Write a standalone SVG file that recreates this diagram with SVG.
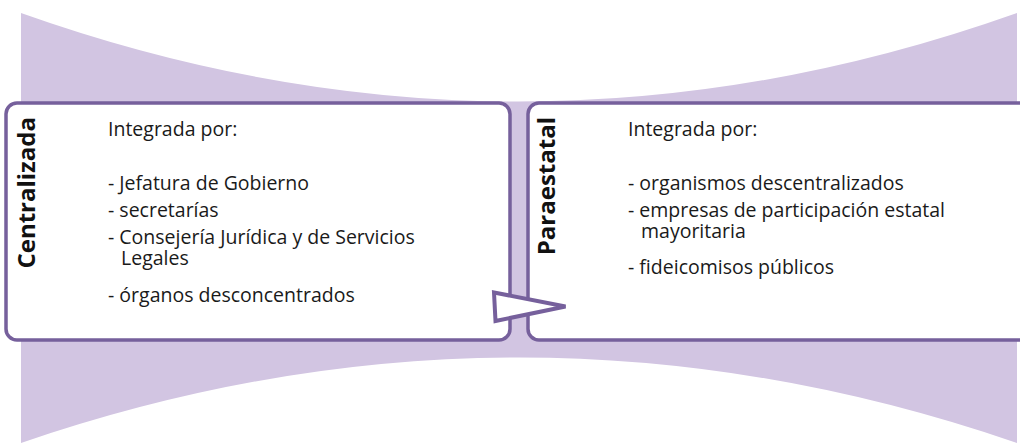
<svg xmlns="http://www.w3.org/2000/svg" width="1020" height="444" viewBox="0 0 1020 444">
<style>
.bg{fill:#d2c5e2;stroke:none}
.box{fill:#ffffff;stroke:#76609c;stroke-width:3.5}
.title{font-family:"Open Sans","Noto Sans",sans-serif;font-weight:bold;font-size:24px;fill:#111111}
.body{font-family:"Open Sans","Noto Sans",sans-serif;font-size:19.5px;fill:#1a1a1a}
.arrow{fill:#ffffff;stroke:#76609c;stroke-width:4;stroke-linejoin:miter}
</style>
<g id="background">
<path class="bg" d="M21,13 Q519,190 1017,13 L1017,443 Q519,272 21,443 Z"/>
</g>
<g id="node-centralizada">
<rect class="box" x="6" y="103" width="504" height="237" rx="11"/>
<text class="title" transform="translate(35,117) rotate(-90)" text-anchor="end">Centralizada</text>
<text class="body" x="108" y="136">Integrada por:</text>
<text class="body" x="108" y="190">- Jefatura de Gobierno</text>
<text class="body" x="108" y="217">- secretarías</text>
<text class="body"><tspan x="108" y="244">- Consejería Jurídica y de Servicios</tspan><tspan x="121" y="265">Legales</tspan></text>
<text class="body" x="108" y="302">- órganos desconcentrados</text>
</g>
<g id="node-paraestatal">
<rect class="box" x="528" y="103" width="510" height="237" rx="11"/>
<text class="title" transform="translate(555,117) rotate(-90)" text-anchor="end">Paraestatal</text>
<text class="body" x="628" y="136">Integrada por:</text>
<text class="body" x="628" y="190">- organismos descentralizados</text>
<text class="body"><tspan x="628" y="217">- empresas de participación estatal</tspan><tspan x="641" y="238">mayoritaria</tspan></text>
<text class="body" x="628" y="274">- fideicomisos públicos</text>
</g>
<g id="connectors">
<polygon class="arrow" points="494,292.5 565.5,306.5 495.5,321"/>
</g>
</svg>
